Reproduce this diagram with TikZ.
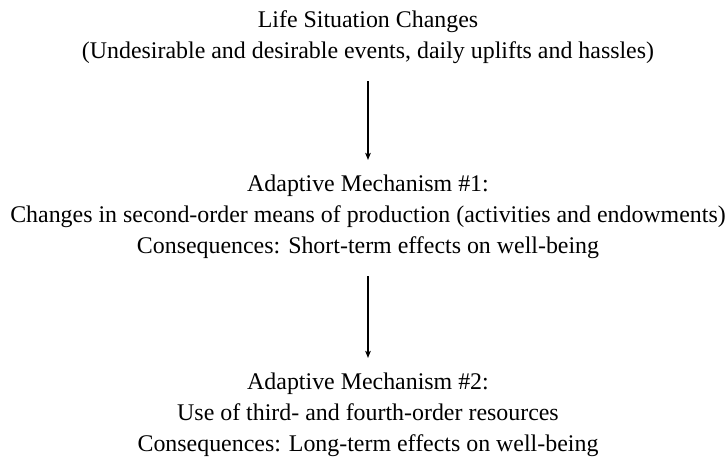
\documentclass[tikz,border=0pt]{standalone}
\usepackage{fontspec}
\setmainfont{Liberation Serif}
\usetikzlibrary{arrows.meta}
\tikzset{x=1pt, y=-1pt, auto,
  block/.style={align=center, inner sep=0pt, font=\fontsize{23.9}{31}\selectfont},
  flow/.style={-{Stealth[length=7pt,width=5.5pt,inset=1.5pt]}, line width=1.3pt, shorten <=17pt, shorten >=15pt}}

\begin{document}
\begin{tikzpicture}
  \useasboundingbox (0,0) rectangle (726,460);
  \node[block] (life) at (368,37.5) {Life Situation Changes\\(Undesirable and desirable events, daily uplifts and hassles)};
  \node[block] (mech1) at (368,217) {Adaptive Mechanism \#1:\\Changes in second-order means of production (activities and endowments)\\Consequences: Short-term effects on well-being};
  \node[block] (mech2) at (368,415) {Adaptive Mechanism \#2:\\Use of third- and fourth-order resources\\Consequences: Long-term effects on well-being};

  \draw[flow] (life) -- (mech1);
  \draw[flow] (mech1) -- (mech2);
\end{tikzpicture}
\end{document}
